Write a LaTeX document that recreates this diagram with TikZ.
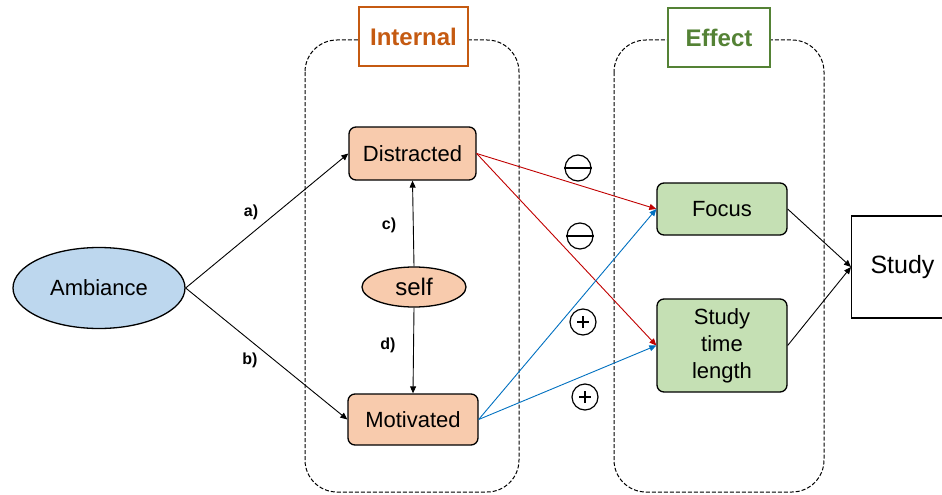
\documentclass[tikz,border=0pt]{standalone}
\usepackage{fontspec}
\setmainfont{Liberation Sans}
\usetikzlibrary{shapes.geometric,arrows.meta}
\definecolor{peach}{RGB}{248,203,173}
\definecolor{lgreen}{RGB}{197,224,180}
\definecolor{lblue}{RGB}{189,215,238}
\definecolor{intorange}{RGB}{197,90,17}
\definecolor{effgreen}{RGB}{84,130,53}
\definecolor{redline}{RGB}{192,0,0}
\definecolor{blueline}{RGB}{0,112,192}
\tikzset{
  fs/.style={font=\fontsize{#1}{#1}\selectfont},
  rbox/.style={draw=black, line width=1.3pt, rounded corners=7pt, inner sep=0pt},
  group/.style={draw=black, dash pattern=on 4pt off 2pt, line width=1pt, rounded corners=32pt},
  title/.style={draw=#1, line width=1.3pt, fill=white, text=#1, inner sep=0pt},
  arr/.style={-{Triangle[length=7pt,width=6pt]}, line width=0.9pt},
  lbl/.style={font=\bfseries\fontsize{16}{16}\selectfont},
  sign/.style={draw=black, line width=1.2pt, circle, minimum size=26pt, inner sep=0pt},
}
\begin{document}
\begin{tikzpicture}[x=1pt,y=-1pt]
\useasboundingbox (0,0) rectangle (942,495);
\clip (0,0) rectangle (942,495);
% groups
\draw[group] (305,40) rectangle (519,492);
\draw[group] (614,40) rectangle (824,492);
\node[title=intorange, minimum width=109pt, minimum height=59pt] (tint) at (413.5,36.5) {\fontsize{24}{24}\selectfont\bfseries Internal};
\node[title=effgreen, minimum width=102pt, minimum height=59pt] (teff) at (719,37.5) {\fontsize{24}{24}\selectfont\bfseries Effect};
% nodes
\node[ellipse, draw=black, line width=1.3pt, fill=lblue, minimum width=172pt, minimum height=81pt, inner sep=0pt, fs=22] (amb) at (99,288) {Ambiance};
\node[rbox, fill=peach, minimum width=127pt, minimum height=53pt, fs=22] (dis) at (412.5,153.5) {Distracted};
\node[rbox, fill=peach, minimum width=130pt, minimum height=51pt, fs=22] (mot) at (413,419.5) {Motivated};
\node[ellipse, draw=black, line width=1.3pt, fill=peach, minimum width=104pt, minimum height=40pt, inner sep=0pt, fs=24] (self) at (414,287) {self};
\node[rbox, fill=lgreen, minimum width=130pt, minimum height=52pt, fs=22] (foc) at (722,209) {Focus};
\node[rbox, fill=lgreen, minimum width=130pt, minimum height=93pt, align=center, font=\fontsize{22}{27}\selectfont] (stl) at (722,345.5) {Study\\time\\length};
\node[draw=black, line width=1.2pt, fill=white, minimum width=110pt, minimum height=102pt, inner sep=0pt, anchor=west] (study) at (851,267) {};
\node[fs=25, anchor=west] (studyt) at (867,267) {Study};
% arrows
\draw[arr] (amb.east) -- (dis.west);
\draw[arr] (amb.east) -- (mot.west);
\draw[arr] (self.north) -- (dis.south);
\draw[arr] (self.south) -- (mot.north);
\draw[arr, redline] (dis.east) -- (foc.west);
\draw[arr, redline] (dis.east) -- (stl.west);
\draw[arr, blueline] (mot.east) -- (foc.west);
\draw[arr, blueline] (mot.east) -- (stl.west);
\draw[arr] (foc.east) -- (study.west);
\draw[arr] (stl.east) -- (study.west);
% labels
\node[lbl] (la) at (251,212) {a)};
\node[lbl] (lb) at (250,360) {b)};
\node[lbl] (lc) at (389,225) {c)};
\node[lbl] (ld) at (388,345) {d)};
% signs
\node[sign] (m1) at (578,168) {};
\draw[line width=1.2pt] (m1.west) -- (m1.east);
\node[sign] (m2) at (580,236) {};
\draw[line width=1.2pt] (m2.west) -- (m2.east);
\node[sign] (p1) at (583,322) {};
\draw[line width=1.4pt] ([xshift=-6pt]p1.center) -- ([xshift=6pt]p1.center) ([yshift=-6pt]p1.center) -- ([yshift=6pt]p1.center);
\node[sign] (p2) at (585,397) {};
\draw[line width=1.4pt] ([xshift=-6pt]p2.center) -- ([xshift=6pt]p2.center) ([yshift=-6pt]p2.center) -- ([yshift=6pt]p2.center);
\end{tikzpicture}
\end{document}
